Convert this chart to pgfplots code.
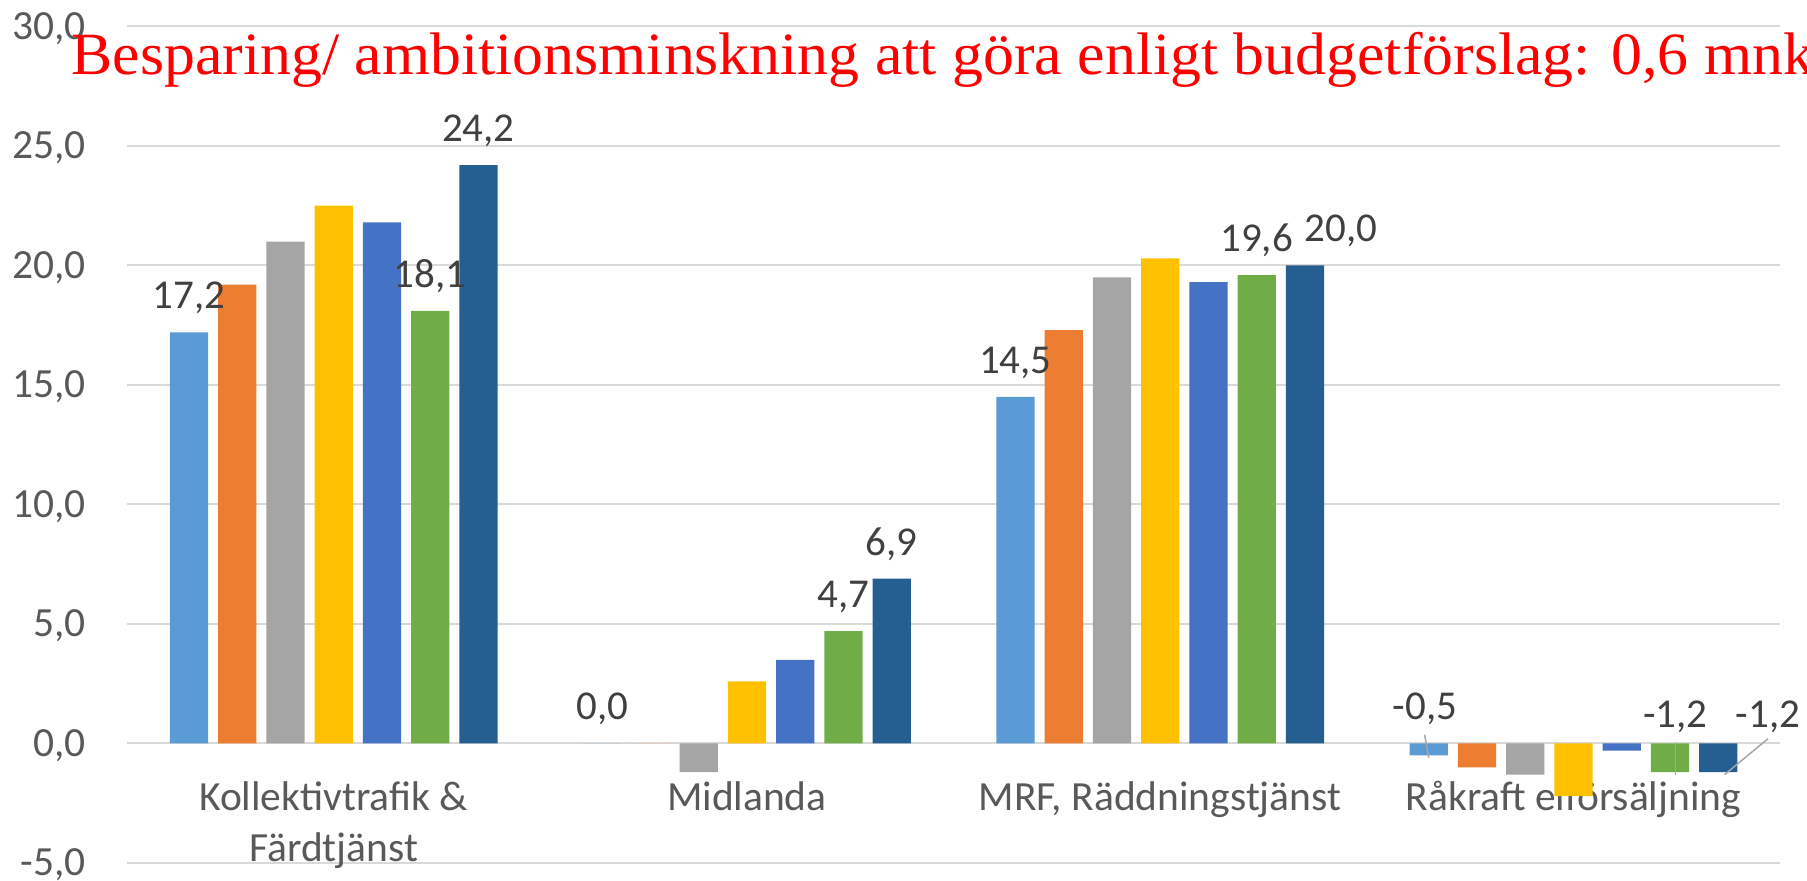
\documentclass[border=0pt]{standalone}
\usepackage{pgfplots}
\pgfplotsset{compat=1.18}
\usepackage{fontspec}
\setmainfont{Carlito}
\newfontfamily\titlefont[FakeStretch=1.03]{Liberation Serif}
\definecolor{c1}{HTML}{5B9BD5}
\definecolor{c2}{HTML}{ED7D31}
\definecolor{c3}{HTML}{A5A5A5}
\definecolor{c4}{HTML}{FFC000}
\definecolor{c5}{HTML}{4472C4}
\definecolor{c6}{HTML}{70AD47}
\definecolor{c7}{HTML}{255E91}
\definecolor{gridc}{HTML}{D9D9D9}
\definecolor{tickc}{HTML}{595959}
\definecolor{labc}{HTML}{404040}
\definecolor{leadc}{HTML}{A6A6A6}
\begin{document}
\begin{tikzpicture}
\begin{axis}[
  at={(50.8pt,7.2pt)}, anchor=south west,
  scale only axis, width=661.2pt, height=334.6pt,
  ymin=-5, ymax=30, xmin=-0.5, xmax=3.5,
  ybar=4pt, bar width=15.3pt,
  ytick={-5,0,5,10,15,20,25,30},
  yticklabels={{-5,0},{0,0},{5,0},{10,0},{15,0},{20,0},{25,0},{30,0}},
  xtick={0,1,2,3},
  xticklabels={{Kollektivtrafik \&\\Färdtjänst}, {Midlanda\\\mbox{}}, {MRF, Räddningstjänst\\\mbox{}}, {Råkraft elförsäljning\\\mbox{}}},
  yticklabel style={anchor=base east, inner sep=0pt, xshift=-16.4pt, yshift=-5.2pt, font=\fontsize{16.6}{20}\selectfont, text=tickc},
  xticklabel style={anchor=base, inner sep=0pt, yshift=0.6pt, align=center, font=\fontsize{16.6}{20.4}\selectfont, text=tickc},
  ymajorgrids, major grid style={draw=gridc, line width=0.8pt},
  axis line style={draw=none}, tick style={draw=none}, major tick length=0pt,
  every node near coord/.append style={anchor=base, yshift=9.4pt, inner sep=0pt, font=\fontsize{16.4}{19}\selectfont, text=labc},
  clip=false,
]
\addplot[fill=c1, draw=none, nodes near coords, point meta=explicit symbolic] coordinates {(0,17.2)[17,2] (1,0.0)[0,0] (2,14.5)[14,5] (3,-0.5)[]};
\addplot[fill=c2, draw=none] coordinates {(0,19.2) (1,0.0) (2,17.3) (3,-1.0)};
\addplot[fill=c3, draw=none] coordinates {(0,21.0) (1,-1.2) (2,19.5) (3,-1.3)};
\addplot[fill=c4, draw=none] coordinates {(0,22.5) (1,2.6) (2,20.3) (3,-2.2)};
\addplot[fill=c5, draw=none] coordinates {(0,21.8) (1,3.5) (2,19.3) (3,-0.3)};
\addplot[fill=c6, draw=none, nodes near coords, point meta=explicit symbolic] coordinates {(0,18.1)[18,1] (1,4.7)[4,7] (2,19.6)[19,6] (3,-1.2)[]};
\addplot[fill=c7, draw=none, nodes near coords, point meta=explicit symbolic] coordinates {(0,24.2)[24,2] (1,6.9)[6,9] (2,20.0)[] (3,-1.2)[]};
\draw[leadc, line width=0.6pt] (axis cs:2.640,0.37) -- (axis cs:2.650,-0.60);
\draw[leadc, line width=0.6pt] (axis cs:3.247,0.06) -- (axis cs:3.247,-1.3);
\draw[leadc, line width=0.6pt] (axis cs:3.471,0.2) -- (axis cs:3.366,-1.3);
\node[anchor=base, inner sep=0pt, font=\fontsize{16.4}{19}\selectfont, text=labc] at (axis cs:2.438,21.0) {20,0};
\node[anchor=base, inner sep=0pt, font=\fontsize{16.4}{19}\selectfont, text=labc] at (axis cs:2.641,1.0) {-0,5};
\node[anchor=base, inner sep=0pt, font=\fontsize{16.4}{19}\selectfont, text=labc] at (axis cs:3.247,0.65) {-1,2};
\node[anchor=base, inner sep=0pt, font=\fontsize{16.4}{19}\selectfont, text=labc] at (axis cs:3.471,0.65) {-1,2};
\end{axis}
\node[anchor=base west, inner sep=0pt, text=red, font=\titlefont\fontsize{24}{28}\selectfont] at (28.5pt,322.4pt) {Besparing/ ambitionsminskning att göra enligt budgetförslag: 0,6 mnkr};
\pgfresetboundingbox
\useasboundingbox (0,0) rectangle (722.8pt,352.4pt);
\end{tikzpicture}
\end{document}
